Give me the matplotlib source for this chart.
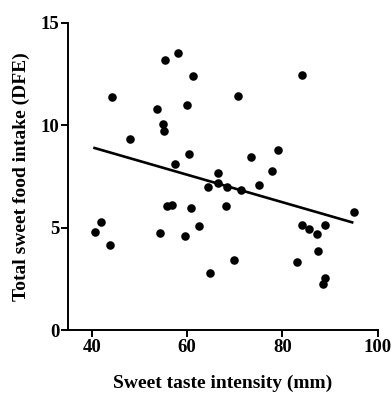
import numpy as np
import matplotlib
matplotlib.use("Agg")
import matplotlib.pyplot as plt

intensity = [44.3, 55.3, 58.1, 61.2, 70.6, 84.0, 53.8, 59.9, 54.9, 55.1, 48.0, 60.4,
             79.1, 73.3, 57.5, 77.7, 66.4, 64.3, 66.4, 68.4, 71.2, 75.0, 55.7, 56.8,
             60.8, 68.2, 94.9, 41.9, 40.6, 43.8, 54.4, 59.6, 62.4, 84.1, 85.5, 87.2,
             88.9, 87.5, 83.0, 69.9, 64.9, 89.0, 88.4]
intake = [11.38, 13.17, 13.55, 12.39, 11.45, 12.47, 10.81, 10.98, 10.05, 9.74, 9.35, 8.60,
          8.79, 8.45, 8.09, 7.78, 7.69, 7.0, 7.2, 7.0, 6.84, 7.07, 6.07, 6.12,
          5.98, 6.06, 5.78, 5.29, 4.80, 4.18, 4.74, 4.61, 5.08, 5.13, 4.95, 4.69,
          5.13, 3.84, 3.32, 3.43, 2.77, 2.57, 2.26]

fit_intercept = 11.62
fit_slope = -0.0672
fit_range = [40.6, 94.6]

xticks = [40, 60, 80, 100]
yticks = [0, 5, 10, 15]

plt.rcParams['font.family'] = ['Liberation Serif', 'DejaVu Serif']

fig = plt.figure(figsize=(3.92, 3.94), dpi=100)
ax = fig.add_axes([0.173, 0.162, 0.791, 0.78])

ax.scatter(intensity, intake, s=38, color='black', zorder=3, linewidths=0)
fx = np.array(fit_range)
ax.plot(fx, fit_intercept + fit_slope * fx, color='black', lw=1.9, zorder=2)

ax.set_xlim(35, 100)
ax.set_ylim(0, 15)
ax.set_xticks(xticks)
ax.set_yticks(yticks)
ax.tick_params(direction='out', length=5, width=1.4, labelsize=13.5, pad=1)
for lab in ax.get_xticklabels() + ax.get_yticklabels():
    lab.set_fontweight('bold')
for s in ['top', 'right']:
    ax.spines[s].set_visible(False)
for s in ['left', 'bottom']:
    ax.spines[s].set_linewidth(1.4)

ax.set_xlabel('Sweet taste intensity (mm)', fontsize=14, fontweight='bold', labelpad=14)
ax.set_ylabel('Total sweet food intake (DFE)', fontsize=14, fontweight='bold', labelpad=8)

fig.savefig('out.png', dpi=100)
